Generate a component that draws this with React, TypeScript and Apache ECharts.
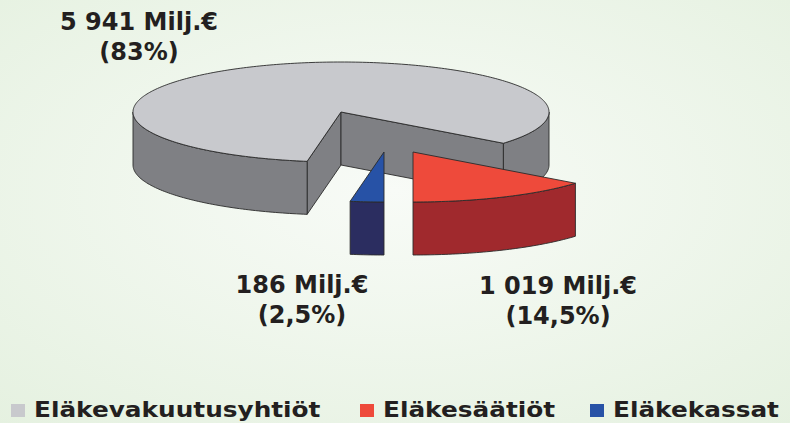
import React, { useEffect, useRef } from "react";
import * as echarts from "echarts";

const categories = ["Eläkevakuutusyhtiöt", "Eläkesäätiöt", "Eläkekassat"];
const values = [5941, 1019, 186];
const percentLabels = ["83%", "14,5%", "2,5%"];
const unit = "Milj.€";

const topColors = ["#c8c9cd", "#ee4a3b", "#2752a6"];
const sideColors = ["#7f8084", "#a0292d", "#2b2d60"];

// layout (pixels)
const CX = 341;
const CY = 112;
const RX = 208;
const RY = 50;
const DEPTH = 53;
const offsets = [
  [0, 0],
  [72, 40],
  [43, 40],
];
const labelPos = [
  [139, 37],
  [558, 301],
  [302, 300],
];
const legendIconX = [11, 360, 590];
const legendY = 410;

const fmt = (v: number) => String(v).replace(/\B(?=(\d{3})+(?!\d))/g, " ");

export default function App() {
  const ref = useRef<HTMLDivElement>(null);
  useEffect(() => {
    document.body.style.margin = "0";
    const chart = echarts.init(ref.current!, undefined, { renderer: "svg" });
    const total = values.reduce((a, b) => a + b, 0);
    const spans = values.map((v) => (v / total) * 360);
    // red ends at 90deg (straight down), blue starts there, grey follows
    const ranges: [number, number][] = [];
    const redStart = 90 - spans[1];
    ranges[1] = [redStart, 90];
    ranges[2] = [90, 90 + spans[2]];
    ranges[0] = [90 + spans[2], 90 + spans[2] + spans[0]];

    const rad = (d: number) => (d * Math.PI) / 180;
    const makeRender = (i: number) => (params: any, api: any) => {
      const cx = CX + offsets[i][0];
      const cy = CY + offsets[i][1];
      const [a1, a2] = ranges[i];
      const P = (t: number, dy = 0) => [cx + RX * Math.cos(rad(t)), cy + RY * Math.sin(rad(t)) + dy];
      const arc = (s: number, e: number, dy = 0) => {
        const pts: number[][] = [];
        const n = Math.max(2, Math.ceil(Math.abs(e - s)));
        for (let k = 0; k <= n; k++) pts.push(P(s + ((e - s) * k) / n, dy));
        return pts;
      };
      const stroke = { stroke: "#2a2a2a", lineWidth: 0.9, lineJoin: "round" };
      const children: any[] = [];
      // radial faces
      if (Math.cos(rad(a1)) < -1e-6) {
        const p = P(a1);
        children.push({
          type: "polygon",
          shape: { points: [[cx, cy], p, [p[0], p[1] + DEPTH], [cx, cy + DEPTH]] },
          style: { fill: sideColors[i], ...stroke },
        });
      }
      if (Math.cos(rad(a2)) > 1e-6) {
        const p = P(a2);
        children.push({
          type: "polygon",
          shape: { points: [[cx, cy], p, [p[0], p[1] + DEPTH], [cx, cy + DEPTH]] },
          style: { fill: sideColors[i], ...stroke },
        });
      }
      // outer side
      for (let k = -1; k <= 1; k++) {
        const s = Math.max(a1, k * 360);
        const e = Math.min(a2, k * 360 + 180);
        if (e - s > 0.01) {
          const pts = arc(s, e).concat(arc(e, s, DEPTH));
          children.push({ type: "polygon", shape: { points: pts }, style: { fill: sideColors[i], ...stroke } });
        }
      }
      // top
      const topPts = [[cx, cy]].concat(arc(a1, a2));
      children.push({ type: "polygon", shape: { points: topPts }, style: { fill: topColors[i], ...stroke } });
      return { type: "group", children };
    };

    const textStyleBase = {
      fontFamily: "DejaVu Sans",
      fontWeight: "bold",
      fill: "#231f20",
    };

    const labelGraphics = categories.map((_, i) => ({
      type: "text",
      x: labelPos[i][0],
      y: labelPos[i][1],
      silent: true,
      style: {
        ...textStyleBase,
        text: `${fmt(values[i])} ${unit}\n(${percentLabels[i]})`,
        fontSize: 24,
        lineHeight: 30,
        align: "center",
        verticalAlign: "middle",
      },
    }));

    const legendGraphics: any[] = [];
    categories.forEach((name, i) => {
      legendGraphics.push({
        type: "rect",
        silent: true,
        shape: { x: legendIconX[i], y: legendY - 6, width: 14, height: 13 },
        style: { fill: topColors[i] },
      });
      legendGraphics.push({
        type: "text",
        silent: true,
        x: legendIconX[i] + 23,
        y: legendY,
        scaleX: 1.18,
        style: {
          ...textStyleBase,
          text: name,
          fontSize: 21,
          align: "left",
          verticalAlign: "middle",
        },
      });
    });

    chart.setOption({
      animation: false,
      backgroundColor: {
        type: "radial",
        x: 0.5,
        y: 0.45,
        r: 0.75,
        colorStops: [
          { offset: 0, color: "#f8fbf7" },
          { offset: 1, color: "#e5f1e0" },
        ],
      },
      series: categories.map((name, i) => ({
        type: "custom",
        name,
        coordinateSystem: "none",
        silent: true,
        itemStyle: { color: topColors[i] },
        data: [[values[i]]],
        renderItem: makeRender(i),
      })),
      graphic: [...labelGraphics, ...legendGraphics],
    });
    return () => chart.dispose();
  }, []);
  return <div ref={ref} style={{ width: 790, height: 423 }} />;
}
